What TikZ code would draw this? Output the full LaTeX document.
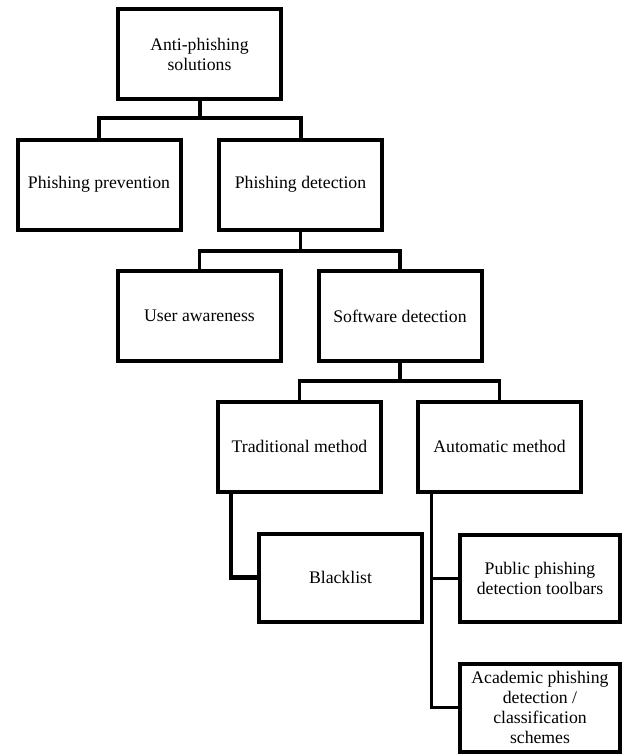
\documentclass[tikz,border=0pt]{standalone}
\usepackage{fontspec}
\setmainfont{Liberation Serif}
\begin{document}
\begin{tikzpicture}[x=1pt,y=-1pt,
  box/.style={draw=black,line width=4pt,rectangle,inner sep=2pt,
    minimum width=163pt,minimum height=90pt,align=center,
    font=\fontsize{17.7pt}{20pt}\selectfont},
  sbox/.style={box,minimum width=160pt},
  conn/.style={draw=black,line width=4pt,line join=miter,line cap=rect}]
\useasboundingbox (0,0) rectangle (624,756);
\node[box] (root) at (199.5,54) {Anti-phishing\\solutions};
\node[box] (prev) at (99,184.5) {Phishing prevention};
\node[box] (det) at (300.5,184.5) {Phishing detection};
\node[box] (user) at (199.5,316) {User awareness};
\node[box] (soft) at (400,316) {Software detection};
\node[box] (trad) at (299.5,446.5) {Traditional method};
\node[box] (auto) at (499.5,446.5) {Automatic method};
\node[box,minimum height=88pt] (black) at (340.5,577.5) {Blacklist};
\node[sbox,minimum height=87pt] (public) at (540,578) {Public phishing\\detection toolbars};
\node[sbox,minimum height=88pt] (acad) at (540,707.5) {Academic phishing\\detection /\\classification\\schemes};
% level 1
\coordinate (b1) at (199.5,118);
\draw[conn] (root.south) -- (b1);
\draw[conn] (prev.north) |- (b1) -| (det.north);
% level 2
\coordinate (b2) at (300.5,251);
\draw[conn,line width=3.5pt] (det.south) -- (b2);
\draw[conn,line width=3.5pt] (user.north) |- (b2) -| (soft.north);
% level 3
\coordinate (b3) at (400,381);
\draw[conn,line width=3.5pt] (soft.south) -- (b3);
\draw[conn,line width=3.5pt] (trad.north) |- (b3) -| (auto.north);
% traditional -> blacklist
\coordinate (t1) at ([xshift=15pt]trad.south west);
\draw[conn,line width=4.5pt] (t1) |- (black.west);
% automatic -> public, academic
\coordinate (a1) at ([xshift=15pt]auto.south west);
\draw[conn,line width=3pt] (a1) |- (acad.west);
\draw[conn,line width=3pt] (public.west) -- (public.west -| a1);
\end{tikzpicture}
\end{document}
